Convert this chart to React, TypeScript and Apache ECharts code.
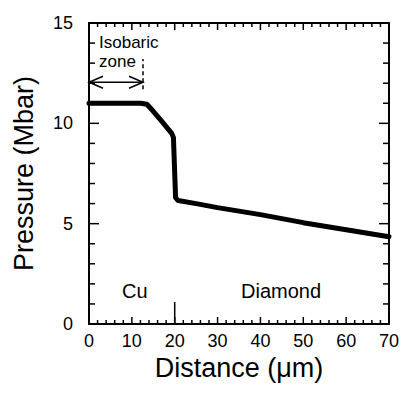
import React, { useEffect, useRef } from "react";
import * as echarts from "echarts";

const distance = [0, 12, 13.5, 15, 17, 19.3, 19.7, 20.2, 20.8, 25, 30, 40, 50, 60, 70];
const pressure = [11.0, 11.0, 10.95, 10.6, 10.1, 9.5, 9.3, 6.3, 6.15, 6.0, 5.8, 5.45, 5.05, 4.7, 4.35];
const isobaricEdge = 12.6;
const isobaricDash = [11.7, 13.2];
const arrowLevel = 12.05;
const interfaceX = 20;
const interfaceTop = 1.1;
const xTicks = [0, 10, 20, 30, 40, 50, 60, 70];
const xMinorTicks = [2, 4, 6, 8, 12, 14, 16, 18, 22, 24, 26, 28, 32, 34, 36, 38, 42, 44, 46, 48, 52, 54, 56, 58, 62, 64, 66, 68];
const yTicks = [0, 5, 10, 15];
const yMinorTicks = [1, 2, 3, 4, 6, 7, 8, 9, 11, 12, 13, 14];

const FONT = "Liberation Sans, Arial, Helvetica, sans-serif";
const X_MIN = xTicks[0];
const X_MAX = xTicks[xTicks.length - 1];
const Y_MIN = yTicks[0];
const Y_MAX = yTicks[yTicks.length - 1];

function xAxisOpt(pos: string, main: boolean) {
  return {
    type: "value",
    min: X_MIN,
    max: X_MAX,
    interval: 10,
    position: pos,
    axisLine: { show: true, onZero: false, lineStyle: { color: "#000", width: 2 } },
    splitLine: { show: false },
    axisTick: { show: false },
    minorTick: { show: false },
    axisLabel: main ? { color: "#000", fontSize: 18, fontFamily: FONT, margin: 8 } : { show: false },
    ...(main
      ? {
          name: "Distance (\u03bcm)",
          nameLocation: "middle",
          nameGap: 25,
          nameTextStyle: { color: "#000", fontSize: 27, fontFamily: FONT },
        }
      : {}),
  };
}

function yAxisOpt(pos: string, main: boolean) {
  return {
    type: "value",
    min: Y_MIN,
    max: Y_MAX,
    interval: 5,
    position: pos,
    axisLine: { show: true, onZero: false, lineStyle: { color: "#000", width: 2 } },
    splitLine: { show: false },
    axisTick: { show: false },
    minorTick: { show: false },
    axisLabel: main ? { color: "#000", fontSize: 18, fontFamily: FONT, margin: 16 } : { show: false },
    ...(main
      ? {
          name: "Pressure (Mbar)",
          nameLocation: "middle",
          nameGap: 52,
          nameTextStyle: { color: "#000", fontSize: 27, fontFamily: FONT },
        }
      : {}),
  };
}

export default function App() {
  const ref = useRef<HTMLDivElement>(null);
  useEffect(() => {
    const chart = echarts.init(ref.current!, null, { renderer: "svg" });
    const tickStyle = { stroke: "#000", lineWidth: 1.5 };
    chart.setOption({
      animation: false,
      backgroundColor: "#fff",
      grid: { left: 89, top: 23, width: 300, height: 301, containLabel: false },
      xAxis: [xAxisOpt("bottom", true), xAxisOpt("top", false)],
      yAxis: [yAxisOpt("left", true), yAxisOpt("right", false)],
      series: [
        {
          type: "custom",
          silent: true,
          data: [...xTicks.map((v) => [v, 7]), ...xMinorTicks.map((v) => [v, 4])],
          renderItem: (params: any, api: any) => {
            const b = api.coord([api.value(0), Y_MIN]);
            const t = api.coord([api.value(0), Y_MAX]);
            const len = api.value(1);
            return {
              type: "group",
              children: [
                { type: "line", shape: { x1: b[0], y1: b[1], x2: b[0], y2: b[1] - len }, style: tickStyle },
                { type: "line", shape: { x1: t[0], y1: t[1], x2: t[0], y2: t[1] + len }, style: tickStyle },
              ],
            };
          },
        },
        {
          type: "custom",
          silent: true,
          data: [...yTicks.map((v) => [v, 10]), ...yMinorTicks.map((v) => [v, 6])],
          renderItem: (params: any, api: any) => {
            const l = api.coord([X_MIN, api.value(0)]);
            const r = api.coord([X_MAX, api.value(0)]);
            const len = api.value(1);
            return {
              type: "group",
              children: [
                { type: "line", shape: { x1: l[0], y1: l[1], x2: l[0] + len, y2: l[1] }, style: tickStyle },
                { type: "line", shape: { x1: r[0], y1: r[1], x2: r[0] - len, y2: r[1] }, style: tickStyle },
              ],
            };
          },
        },
        {
          type: "line",
          data: distance.map((d, i) => [d, pressure[i]]),
          showSymbol: false,
          lineStyle: { color: "#000", width: 5, join: "round", cap: "round" },
          z: 5,
        },
        {
          type: "line",
          data: [[isobaricEdge, isobaricDash[0]], [isobaricEdge, isobaricDash[1]]],
          showSymbol: false,
          lineStyle: { color: "#000", width: 1.5, type: [4, 3] },
        },
        {
          type: "line",
          data: [[interfaceX, 0], [interfaceX, interfaceTop]],
          showSymbol: false,
          lineStyle: { color: "#000", width: 1.5 },
        },
        {
          type: "custom",
          data: [[0, isobaricEdge, arrowLevel]],
          renderItem: (params: any, api: any) => {
            const a = api.coord([api.value(0), api.value(2)]);
            const b = api.coord([api.value(1), api.value(2)]);
            const h = 6;
            const w = 14;
            return {
              type: "group",
              children: [
                { type: "line", shape: { x1: a[0], y1: a[1], x2: b[0], y2: b[1] }, style: { stroke: "#000", lineWidth: 1.5 } },
                { type: "polyline", shape: { points: [[a[0] + w, a[1] - h], [a[0], a[1]], [a[0] + w, a[1] + h]] }, style: { stroke: "#000", lineWidth: 1.5, fill: "none" } },
                { type: "polyline", shape: { points: [[b[0] - w, b[1] - h], [b[0], b[1]], [b[0] - w, b[1] + h]] }, style: { stroke: "#000", lineWidth: 1.5, fill: "none" } },
              ],
            };
          },
        },
      ],
      graphic: [
        { type: "text", left: 99, top: 34, style: { text: "Isobaric", font: `17px ${FONT}`, fill: "#000" } },
        { type: "text", left: 99, top: 53, style: { text: "zone", font: `17px ${FONT}`, fill: "#000" } },
        { type: "text", left: 122, top: 281, style: { text: "Cu", font: `20px ${FONT}`, fill: "#000" } },
        { type: "text", left: 241, top: 281, style: { text: "Diamond", font: `20px ${FONT}`, fill: "#000" } },
      ],
    });
    return () => chart.dispose();
  }, []);
  return <div ref={ref} style={{ width: 405, height: 393, position: "absolute", left: 0, top: 0 }} />;
}
